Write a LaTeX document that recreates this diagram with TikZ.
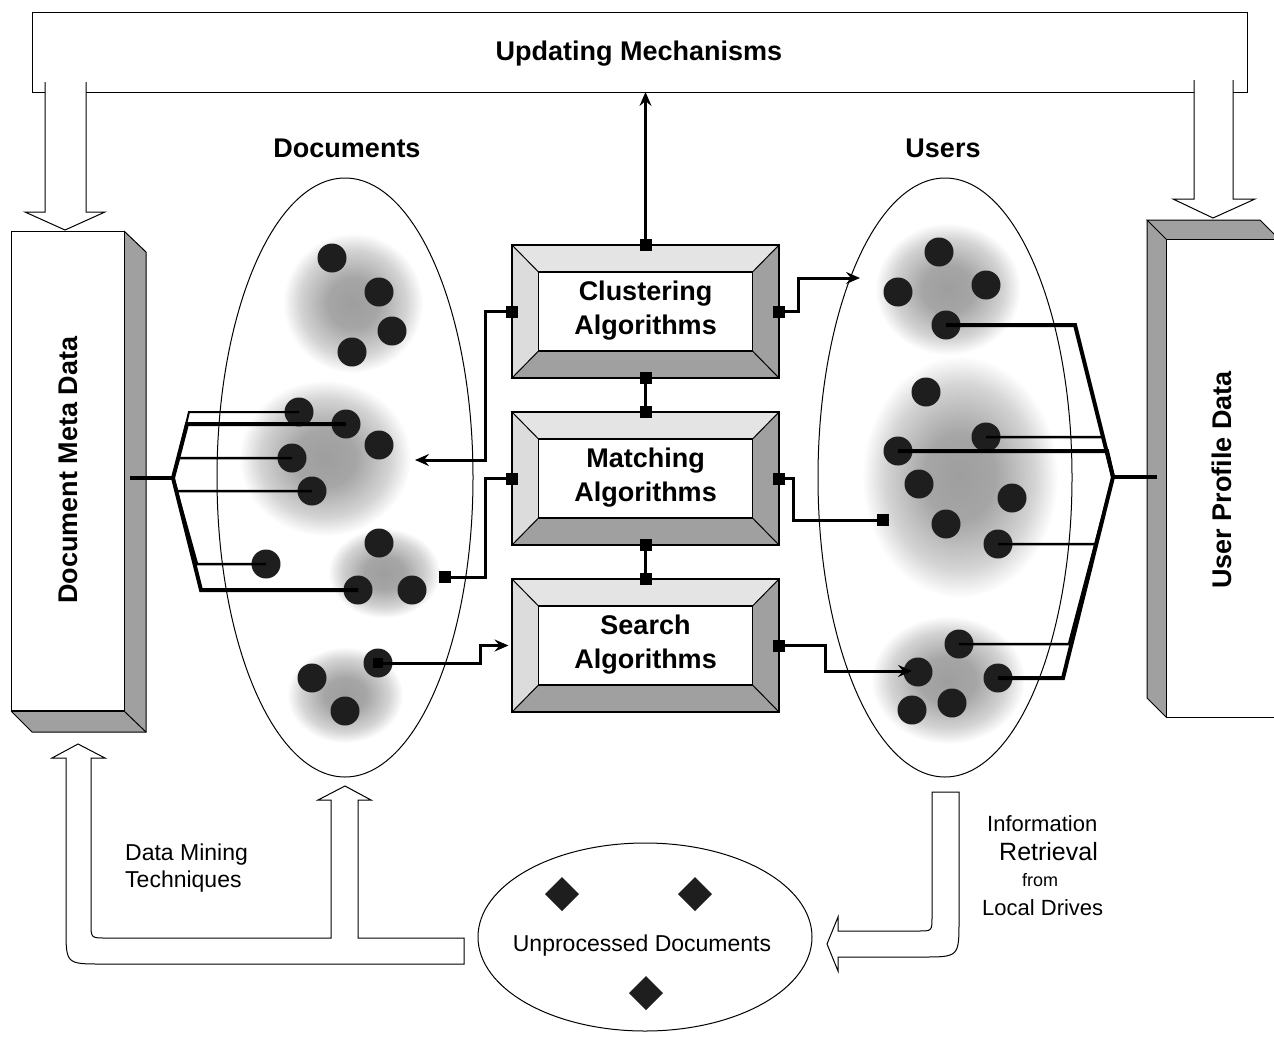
\documentclass[tikz,border=0pt]{standalone}
\usepackage{fontspec}
\setmainfont{Liberation Sans}
\usetikzlibrary{arrows.meta}
\definecolor{facegray}{HTML}{A0A0A0}
\definecolor{toplight}{HTML}{E4E4E4}
\definecolor{leftlight}{HTML}{DCDCDC}
\definecolor{dotcol}{HTML}{1E1E1E}
\pgfdeclareradialshading{blob}{\pgfpoint{0bp}{0bp}}{color(0bp)=(black!38); color(9bp)=(black!35); color(19bp)=(black!17); color(25bp)=(white); color(50bp)=(white)}
\tikzset{
 hdr/.style={font=\fontsize{27}{34}\selectfont\bfseries, inner sep=0pt},
 lbl/.style={font=\fontsize{23}{28}\selectfont, inner sep=0pt},
 dot/.style={circle, fill=dotcol, minimum size=29pt, inner sep=0pt},
 port/.style={rectangle, fill=black, minimum size=12pt, inner sep=0pt},
 conn/.style={line width=3pt},
 arr/.style={line width=3pt, -{Stealth[length=14pt,width=12pt,inset=5pt]}},
 outl/.style={line width=1pt},
 fanthin/.style={line width=2.5pt},
 fanthick/.style={line width=4pt},
}
\newcommand\bevbox[3]{%
\begin{scope}[shift={(645.5,#2)}]
 \fill[toplight] (-133.5,-66.5) -- (133.5,-66.5) -- (107,-39.5) -- (-107,-39.5) -- cycle;
 \fill[leftlight] (-133.5,-66.5) -- (-107,-39.5) -- (-107,39.5) -- (-133.5,66.5) -- cycle;
 \fill[facegray] (133.5,-66.5) -- (133.5,66.5) -- (107,39.5) -- (107,-39.5) -- cycle;
 \fill[facegray] (-133.5,66.5) -- (133.5,66.5) -- (107,39.5) -- (-107,39.5) -- cycle;
 \draw[line width=1.3pt] (-133.5,-66.5) rectangle (133.5,66.5);
 \draw[outl] (-133.5,-66.5) -- (-107,-39.5) (133.5,-66.5) -- (107,-39.5)
   (-133.5,66.5) -- (-107,39.5) (133.5,66.5) -- (107,39.5);
 \draw[line width=1.3pt, fill=white] (-107,-39.5) rectangle (107,39.5);
 \node[hdr, align=center] (#1) at (0,-1) {#3};
 \coordinate (#1-n) at (0,-66.5);
 \coordinate (#1-s) at (0,66.5);
 \coordinate (#1-w) at (-133.5,0);
 \coordinate (#1-e) at (133.5,0);
 \coordinate (#1-in) at (-137,0);
\end{scope}}
\begin{document}
\begin{tikzpicture}[x=1pt,y=-1pt]
\useasboundingbox (0,0) rectangle (1274,1039);
\clip (0,0) rectangle (1274,1039);

% ---- top updating bracket
\draw[outl] (45,92) -- (32,92) -- (32,12) -- (1247,12) -- (1247,92) -- (1233,92);
\draw[outl] (86,92) -- (1194,92);
\draw[outl, fill=white] (45,82) -- (45,212) -- (25,212) -- (65,230) -- (105,212) -- (86,212) -- (86,82);
\draw[outl, fill=white] (1194,80) -- (1194,199) -- (1173,199) -- (1213,218) -- (1255,199) -- (1233,199) -- (1233,80);
\node[hdr, anchor=base] (upd) at (639,60) {Updating Mechanisms};
\coordinate (barHit) at (645.5,92);

% ---- headers
\node[hdr, anchor=base] (hdoc) at (347,157) {Documents};
\node[hdr, anchor=base] (husr) at (943,157) {Users};

% ---- left 3D box
\fill[facegray] (124,231) -- (146,252) -- (146,732) -- (124,711) -- cycle;
\fill[facegray] (11,711) -- (124,711) -- (146,732) -- (32,732) -- cycle;
\draw[outl] (124,231) -- (146,252) -- (146,732) -- (32,732) -- (11,711);
\draw[outl] (124,711) -- (146,732);
\draw[outl, fill=white] (11,231) rectangle (124,711);
\draw[line width=2.5pt] (11,711) -- (124,711);
\node[hdr, rotate=90] (dmd) at (68,470) {Document Meta Data};

% ---- right 3D box
\fill[facegray] (1147,220) -- (1166,239) -- (1166,717) -- (1147,698) -- cycle;
\fill[facegray] (1147,220) -- (1260,220) -- (1279,239) -- (1166,239) -- cycle;
\draw[outl] (1166,239) -- (1147,220) -- (1260,220) -- (1279,239);
\draw[outl] (1147,220) -- (1147,698) -- (1166,717);
\draw[outl, fill=white] (1166,239) rectangle (1290,717);
\node[hdr, rotate=90] (upr) at (1222,480) {User Profile Data};

% ---- blobs
\shade[shading=blob] (353,303) ellipse (70 and 70);
\shade[shading=blob] (325,458) ellipse (86 and 78);
\shade[shading=blob] (384,573) ellipse (56 and 45);
\shade[shading=blob] (345,695) ellipse (58 and 48);
\shade[shading=blob] (948,289) ellipse (73 and 66);
\shade[shading=blob] (960,477) ellipse (98 and 121);
\shade[shading=blob] (948,680) ellipse (77 and 64);

% ---- ellipses
\draw[outl] (345,477.5) ellipse (128 and 299.5);
\draw[outl] (945,477.5) ellipse (127 and 299.5);

% ---- document dots
\node[dot] (da1) at (332,258) {};
\node[dot] (da2) at (379,292) {};
\node[dot] (da3) at (392,331) {};
\node[dot] (da4) at (352,352) {};
\node[dot] (db1) at (299,412) {};
\node[dot] (db2) at (346,424) {};
\node[dot] (db3) at (379,445) {};
\node[dot] (db4) at (292,458) {};
\node[dot] (db5) at (312,491) {};
\node[dot] (dc1) at (379,543) {};
\node[dot] (dc2) at (358,590) {};
\node[dot] (dc3) at (412,590) {};
\node[dot] (dx) at (266,564) {};
\node[dot] (dd1) at (312,678) {};
\node[dot] (dd2) at (378,663) {};
\node[dot] (dd3) at (345,711) {};

% ---- user dots
\node[dot] (ua1) at (939,252) {};
\node[dot] (ua2) at (898,292) {};
\node[dot] (ua3) at (986,285) {};
\node[dot] (ua4) at (946,325) {};
\node[dot] (ub1) at (926,392) {};
\node[dot] (ub2) at (986,437) {};
\node[dot] (ub3) at (898,451) {};
\node[dot] (ub4) at (919,484) {};
\node[dot] (ub5) at (1012,498) {};
\node[dot] (ub6) at (946,524) {};
\node[dot] (ub7) at (998,544) {};
\node[dot] (uc1) at (959,644) {};
\node[dot] (uc2) at (918,672) {};
\node[dot] (uc3) at (998,678) {};
\node[dot] (uc4) at (952,703) {};
\node[dot] (uc5) at (912,710) {};

% ---- left fan
\coordinate (vL) at (173,478);
\coordinate (dmdOut) at (130,478);
\draw[fanthick] (dmdOut) -- (vL);
\draw[line width=2pt] (vL) -- (189,412) -- (db1.center);
\draw[fanthick] (vL) -- (187,424) -- (db2.center);
\draw[fanthin] (vL) -- (179,458) -- (db4.center);
\draw[fanthin] (vL) -- (177,491) -- (db5.center);
\draw[fanthin] (vL) -- (197,564) -- (dx.center);
\draw[fanthick] (vL) -- (201,590) -- (dc2.center);

% ---- right fan
\coordinate (vR) at (1113,477);
\coordinate (uprOut) at (1157,477);
\draw[fanthick] (uprOut) -- (vR);
\draw[fanthick] (vR) -- (1075,325) -- (ua4.center);
\draw[fanthin] (vR) -- (1103,437) -- (ub2.center);
\draw[fanthick] (vR) -- (1107,451) -- (ub3.center);
\draw[fanthin] (vR) -- (1096,544) -- (ub7.center);
\draw[fanthin] (vR) -- (1069,644) -- (uc1.center);
\draw[fanthick] (vR) -- (1063,678) -- (uc3.center);

% ---- algorithm boxes
\bevbox{C}{311.5}{Clustering\\Algorithms}
\bevbox{M}{478.5}{Matching\\Algorithms}
\bevbox{S}{645.5}{Search\\Algorithms}

% ---- connectors
\coordinate (docIn) at (415,460);
\coordinate (usrIn) at (860,278);
\coordinate (docSq) at (445,577);
\coordinate (usrSq) at (883,520);
\coordinate (usrIn2) at (912,671);
\draw[arr] (C-n) -- (barHit);
\draw[conn] (C-s) -- (M-n);
\draw[conn] (M-s) -- (S-n);
\draw[arr] (C-w) -- ++(-27,0) |- (docIn);
\draw[arr] (C-e) -- ++(19,0) |- (usrIn);
\draw[conn] (M-w) -- ++(-27,0) |- (docSq);
\draw[conn] (M-e) -- ++(14,0) |- (usrSq);
\draw[arr] (dd2.center) -- (480,663) |- (S-in);
\draw[arr] (S-e) -- ++(46,0) |- (usrIn2);
\foreach \p in {C-n,C-s,M-n,M-s,S-n,C-w,C-e,M-w,M-e,S-e,docSq,usrSq}
  \node[port] (\p-sq) at (\p) {};
\node[port, minimum size=10pt] (dd2-sq) at (dd2) {};

% ---- bottom block arrows
\draw[outl, fill=white] (464,938) -- (358,938) -- (358,800) -- (371,800) -- (345,786)
  -- (318,800) -- (331,800) -- (331,938) -- (106,938) .. controls (91,938) .. (91,923)
  -- (91,758) -- (105,758) -- (78,744) -- (52,758) -- (66,758) -- (66,928)
  .. controls (66,964) .. (102,964) -- (464,964) -- cycle;
\draw[outl, fill=white] (932,792) -- (959,792) -- (959,920) .. controls (959,957) .. (922,957)
  -- (838,957) -- (838,971) -- (827,944) -- (838,917) -- (838,931) -- (918,931)
  .. controls (932,931) .. (932,917) -- cycle;

% ---- unprocessed documents
\draw[outl] (645,937) ellipse (167 and 94);
\fill[dotcol] (562,877) -- (579,894) -- (562,911) -- (545,894) -- cycle;
\fill[dotcol] (695,877) -- (712,894) -- (695,911) -- (678,894) -- cycle;
\fill[dotcol] (646,976) -- (663,993) -- (646,1010) -- (629,993) -- cycle;
\node[lbl, anchor=base] (unp) at (642,951) {Unprocessed Documents};

% ---- labels
\node[lbl, anchor=base west] (dm1) at (125,860) {Data Mining};
\node[lbl, anchor=base west] (dm2) at (125,887) {Techniques};
\node[lbl, anchor=base west, font=\fontsize{22}{26}\selectfont] (ir1) at (987,831) {Information};
\node[lbl, anchor=base west, font=\fontsize{25}{30}\selectfont] (ir2) at (999,860) {Retrieval};
\node[lbl, anchor=base west, font=\fontsize{18}{22}\selectfont] (ir3) at (1022,886) {from};
\node[lbl, anchor=base west, font=\fontsize{22}{26}\selectfont] (ir4) at (982,915) {Local Drives};
\end{tikzpicture}
\end{document}
